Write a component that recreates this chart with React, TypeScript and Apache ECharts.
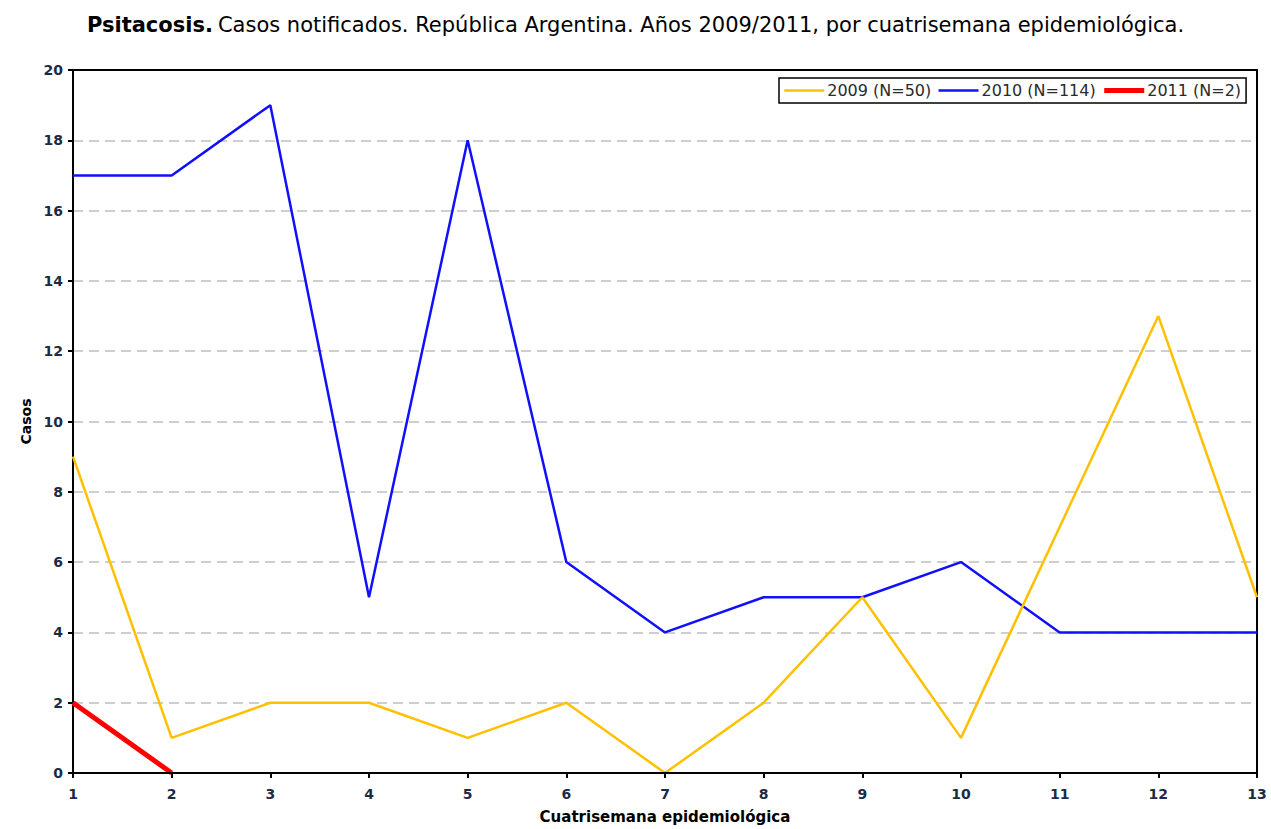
import React, { useEffect, useRef } from "react";
import * as echarts from "echarts";

const categories = ["1", "2", "3", "4", "5", "6", "7", "8", "9", "10", "11", "12", "13"];
const values2009 = [9, 1, 2, 2, 1, 2, 0, 2, 5, 1, 7, 13, 5];
const values2010 = [17, 17, 19, 5, 18, 6, 4, 5, 5, 6, 4, 4, 4];
const values2011 = [2, 0];
const seriesNames = ["2009 (N=50)", "2010 (N=114)", "2011 (N=2)"];

const FONT = "DejaVu Sans";
const LABEL_COLOR = "#1c2b45";

export default function App() {
  const ref = useRef<HTMLDivElement>(null);
  useEffect(() => {
    if (!ref.current) return;
    const chart = echarts.init(ref.current, null, { renderer: "svg" });
    chart.setOption({
      animation: false,
      backgroundColor: "#ffffff",
      title: {
        text: "{b|Psitacosis.} {r|Casos notificados. República Argentina. Años 2009/2011, por cuatrisemana epidemiológica.}",
        left: "center",
        top: 9,
        textStyle: {
          fontWeight: "normal",
          rich: {
            b: { fontFamily: FONT, fontSize: 21, fontWeight: "bold", color: "#000" },
            r: { fontFamily: FONT, fontSize: 21, fontWeight: "normal", color: "#000" },
          },
        },
      },
      legend: {
        left: 779,
        top: 78,
        orient: "horizontal",
        borderColor: "#000",
        borderWidth: 1.5,
        backgroundColor: "#fff",
        padding: [3, 5, 3, 4],
        itemGap: 6,
        itemWidth: 40,
        itemHeight: 10,
        itemStyle: { opacity: 0 },
        textStyle: { fontFamily: FONT, fontSize: 16, color: "#2a2a2a", lineHeight: 19, padding: [0, 0, 0, -2] },
        data: [
          { name: seriesNames[0], lineStyle: { width: 2.5 } },
          { name: seriesNames[1], lineStyle: { width: 2.5 } },
          { name: seriesNames[2], lineStyle: { width: 5 } },
        ],
      },
      grid: {
        left: 73,
        right: 14,
        top: 70,
        bottom: 49,
        show: false,
        containLabel: false,
      },
      xAxis: [
        {
          type: "category",
          data: categories,
          boundaryGap: false,
          name: "Cuatrisemana epidemiológica",
          nameLocation: "middle",
          nameGap: 36,
          nameTextStyle: { fontFamily: FONT, fontSize: 15, fontWeight: "bold", color: "#000" },
          axisLine: { onZero: false, lineStyle: { color: "#000", width: 2 } },
          axisTick: { show: true, length: 5, alignWithLabel: true, lineStyle: { color: "#000", width: 2 } },
          axisLabel: { fontFamily: FONT, fontSize: 14, fontWeight: "bold", color: LABEL_COLOR, margin: 14 },
          splitLine: { show: false },
          z: 5,
        },
        {
          type: "category",
          data: categories,
          boundaryGap: false,
          position: "top",
          axisLine: { show: true, onZero: false, lineStyle: { color: "#000", width: 2 } },
          axisTick: { show: false },
          axisLabel: { show: false },
          splitLine: { show: false },
          z: 5,
        },
      ],
      yAxis: [
        {
          type: "value",
          min: 0,
          max: 20,
          interval: 2,
          name: "Casos",
          nameLocation: "middle",
          nameGap: 39,
          nameRotate: 90,
          nameTextStyle: { fontFamily: FONT, fontSize: 14, fontWeight: "bold", color: "#000" },
          axisLine: { show: true, onZero: false, lineStyle: { color: "#000", width: 2 } },
          axisTick: { show: true, length: 5, lineStyle: { color: "#000", width: 2 } },
          axisLabel: { fontFamily: FONT, fontSize: 14, fontWeight: "bold", color: LABEL_COLOR, margin: 10 },
          splitLine: { show: true, lineStyle: { color: "#c0c0c0", width: 1.5, type: [10, 6] } },
        },
        {
          type: "value",
          min: 0,
          max: 20,
          interval: 2,
          position: "right",
          axisLine: { show: true, onZero: false, lineStyle: { color: "#000", width: 2 } },
          axisTick: { show: false },
          axisLabel: { show: false },
          splitLine: { show: false },
        },
      ],
      series: [
        {
          name: seriesNames[0],
          type: "line",
          data: values2009,
          symbol: "none",
          lineStyle: { color: "#FFC000", width: 2.5 },
          itemStyle: { color: "#FFC000" },
          z: 3,
        },
        {
          name: seriesNames[1],
          type: "line",
          data: values2010,
          symbol: "none",
          lineStyle: { color: "#1010FF", width: 2.5 },
          itemStyle: { color: "#1010FF" },
          z: 2,
        },
        {
          name: seriesNames[2],
          type: "line",
          data: values2011,
          symbol: "none",
          lineStyle: { color: "#FF0000", width: 5 },
          itemStyle: { color: "#FF0000" },
          z: 4,
        },
      ],
    });
    return () => chart.dispose();
  }, []);
  return (
    <div
      ref={ref}
      style={{ position: "absolute", left: 0, top: 0, width: 1271, height: 829 }}
    />
  );
}
